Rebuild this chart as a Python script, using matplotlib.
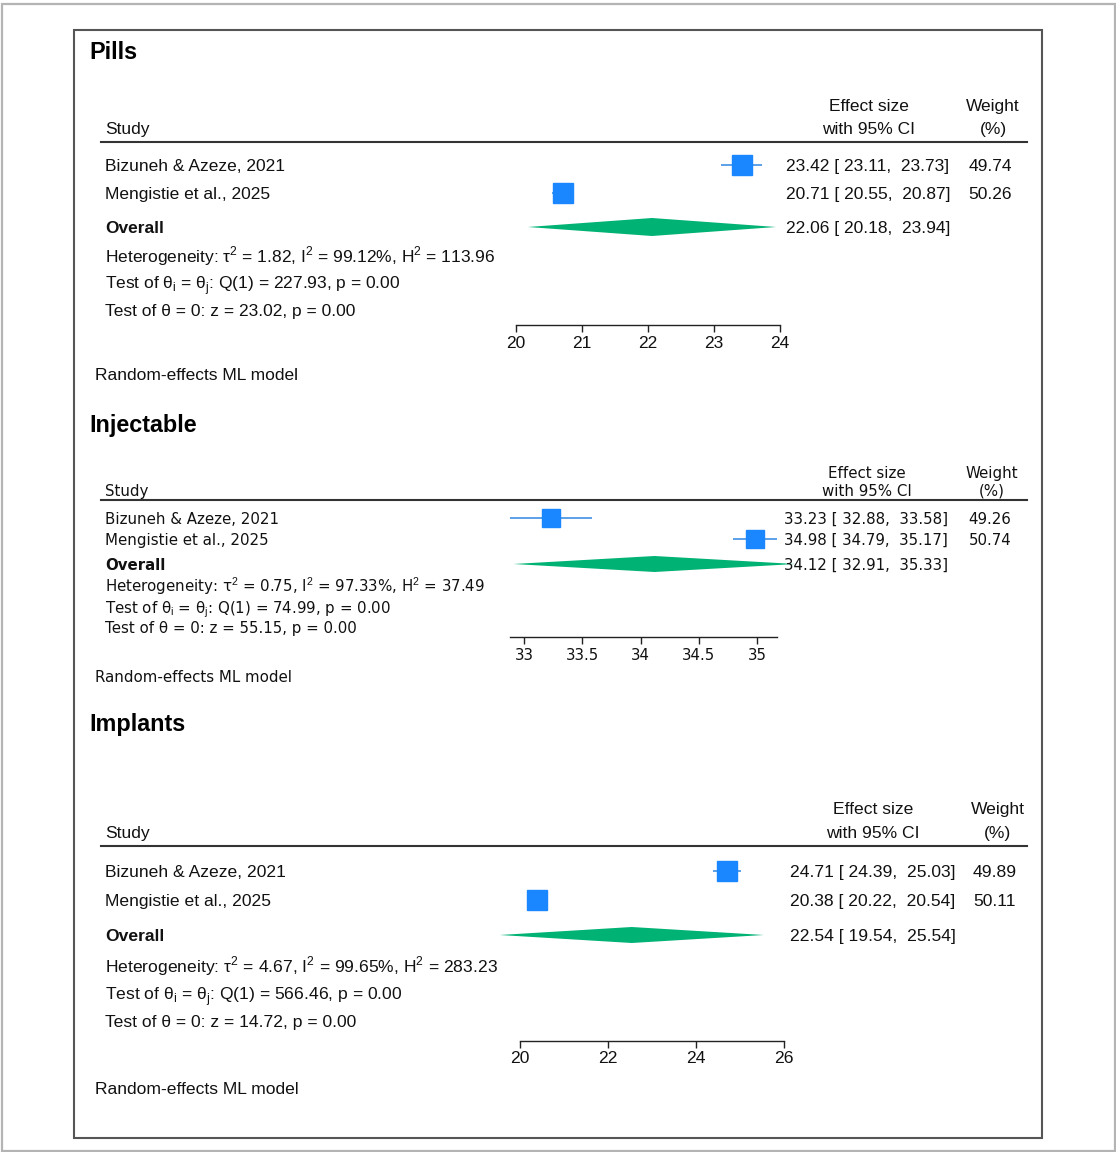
import matplotlib
matplotlib.use("Agg")
import matplotlib.pyplot as plt
from matplotlib.patches import Rectangle
from matplotlib.lines import Line2D

plt.rcParams['mathtext.fontset'] = 'custom'
plt.rcParams['mathtext.rm'] = 'Liberation Sans'

W, H = 1116, 1152
DPI = 100

# ---------------- data ----------------
studies = ["Bizuneh & Azeze, 2021", "Mengistie et al., 2025"]

pills_es = [23.42, 20.71]
pills_lo = [23.11, 20.55]
pills_hi = [23.73, 20.87]
pills_w = [49.74, 50.26]
pills_overall = [22.06, 20.18, 23.94]
pills_stats = ["1.82", "99.12%", "113.96", "227.93", "23.02"]
pills_ticks = [20, 21, 22, 23, 24]

inj_es = [33.23, 34.98]
inj_lo = [32.88, 34.79]
inj_hi = [33.58, 35.17]
inj_w = [49.26, 50.74]
inj_overall = [34.12, 32.91, 35.33]
inj_stats = ["0.75", "97.33%", "37.49", "74.99", "55.15"]
inj_ticks = [33, 33.5, 34, 34.5, 35]
inj_ticklabels = ["33", "33.5", "34", "34.5", "35"]

imp_es = [24.71, 20.38]
imp_lo = [24.39, 20.22]
imp_hi = [25.03, 20.54]
imp_w = [49.89, 50.11]
imp_overall = [22.54, 19.54, 25.54]
imp_stats = ["4.67", "99.65%", "283.23", "566.46", "14.72"]
imp_ticks = [20, 22, 24, 26]

SQ_COLOR = '#1a86ff'
CI_COLOR = '#4f98e6'
DIA_COLOR = '#00b274'
TXT = '#111111'

fig = plt.figure(figsize=(W / DPI, H / DPI), dpi=DPI)
fig.patch.set_facecolor('white')


def fx(x):
    return x / W


def fy(y):
    return 1 - y / H


# borders
fig.add_artist(Rectangle((fx(1.5), fy(1150.5)), fx(1113), (1147) / H, transform=fig.transFigure,
                         fill=False, edgecolor='#b4b4b4', linewidth=1.6))
fig.add_artist(Rectangle((fx(73.5), fy(1138)), fx(1042 - 73.5), (1138 - 29.5) / H, transform=fig.transFigure,
                         fill=False, edgecolor='#555555', linewidth=1.5))


def panel(title, es, lo, hi, wts, overall, stats, ticks, ticklabels, L):
    fam = L['family']
    fs = L['fs']
    hfs = L['hfs']
    # title
    fig.text(fx(89), fy(L['title_y']), title, fontsize=16.8, fontweight='bold',
             family=['Liberation Sans', 'DejaVu Sans'], color='black', va='center_baseline', ha='left')
    # header
    fig.text(fx(105), fy(L['h2']), "Study", fontsize=hfs, family=fam, color=TXT, va='center_baseline')
    fig.text(fx(L['es_hdr_x']), fy(L['h1']), "Effect size", fontsize=hfs, family=fam, color=TXT,
             va='center_baseline', ha='center')
    fig.text(fx(L['es_hdr_x']), fy(L['h2']), "with 95% CI", fontsize=hfs, family=fam, color=TXT,
             va='center_baseline', ha='center')
    fig.text(fx(L['w_hdr_x']), fy(L['h1']), "Weight", fontsize=hfs, family=fam, color=TXT,
             va='center_baseline', ha='center')
    fig.text(fx(L['w_hdr_x']), fy(L['h2']), "(%)", fontsize=hfs, family=fam, color=TXT,
             va='center_baseline', ha='center')
    fig.add_artist(Line2D([fx(101), fx(1027)], [fy(L['line_y']), fy(L['line_y'])],
                          transform=fig.transFigure, color='#333333', linewidth=1.5))

    # axes for the marks
    t0, t1 = ticks[0], ticks[-1]
    x0, x1 = L['tick_px']
    top, bot = L['line_y'], L['axis_y']
    ax = fig.add_axes([fx(x0), fy(bot), fx(x1 - x0), (bot - top) / H])
    ax.set_xlim(t0, t1)
    ax.set_ylim(bot, top)
    ax.patch.set_visible(False)
    for s in ['top', 'left', 'right']:
        ax.spines[s].set_visible(False)
    ax.spines['bottom'].set_color('#222222')
    ax.spines['bottom'].set_linewidth(1.0)
    ax.spines['bottom'].set_bounds(*L['axis_bounds'])
    ax.set_yticks([])
    ax.set_xticks(ticks)
    ax.set_xticklabels(ticklabels, fontsize=L['tfs'], family=fam, color=TXT)
    ax.tick_params(axis='x', direction='out', length=5, width=1.0, color='#222222', pad=L['pad'])

    rows = L['rows']
    for i in range(len(es)):
        ax.plot([lo[i], hi[i]], [rows[i], rows[i]], color=CI_COLOR, linewidth=1.3, clip_on=False,
                solid_capstyle='butt', zorder=2)
        ax.plot([es[i]], [rows[i]], marker='s', markersize=L['msk'] * wts[i] ** 0.5, color=SQ_COLOR,
                markeredgecolor=SQ_COLOR, linestyle='none', clip_on=False, zorder=3)
    oe, ol, oh = overall
    oy = rows[2]
    hh = L['dia_h']
    ax.fill([ol, oe, oh, oe], [oy, oy - hh, oy, oy + hh], color=DIA_COLOR, clip_on=False,
            linewidth=0, zorder=3)

    # left labels
    for i, name in enumerate(studies):
        fig.text(fx(105), fy(rows[i]), name, fontsize=fs, family=fam, color=TXT, va='center_baseline')
    fig.text(fx(105), fy(rows[2]), "Overall", fontsize=fs, family=fam, fontweight='bold', color=TXT,
             va='center_baseline')
    tau, i2, h2, q, z = stats
    fig.text(fx(105), fy(L['het'][0]),
             "Heterogeneity: τ$^\\mathrm{2}$ = %s, I$^\\mathrm{2}$ = %s, H$^\\mathrm{2}$ = %s" % (tau, i2, h2),
             fontsize=fs, family=fam, color=TXT, va='center_baseline')
    fig.text(fx(105), fy(L['het'][1]),
             "Test of θ$_\\mathrm{i}$ = θ$_\\mathrm{j}$: Q(1) = %s, p = 0.00" % q,
             fontsize=fs, family=fam, color=TXT, va='center_baseline')
    fig.text(fx(105), fy(L['het'][2]),
             "Test of θ = 0: z = %s, p = 0.00" % z,
             fontsize=fs, family=fam, color=TXT, va='center_baseline')

    # right columns
    for i in range(len(es)):
        fig.text(fx(L['es_x']), fy(rows[i]), "%.2f [ %.2f,  %.2f]" % (es[i], lo[i], hi[i]),
                 fontsize=fs, family=fam, color=TXT, va='center_baseline')
        fig.text(fx(L['w_x']), fy(rows[i]), "%.2f" % wts[i],
                 fontsize=fs, family=fam, color=TXT, va='center_baseline', ha='center')
    fig.text(fx(L['es_x']), fy(rows[2]), "%.2f [ %.2f,  %.2f]" % (oe, ol, oh),
             fontsize=fs, family=fam, color=TXT, va='center_baseline')

    fig.text(fx(95), fy(L['model_y']), "Random-effects ML model", fontsize=fs, family=fam, color=TXT,
             va='center_baseline')
    return ax


pills_L = dict(family=['Liberation Sans', 'DejaVu Sans'], fs=12.5, hfs=12.5, tfs=12.5,
               title_y=50, h1=105, h2=128, line_y=142, rows=[165, 193, 227], het=[253, 282, 310],
               axis_y=325, tick_px=(516, 780), axis_bounds=(20, 24), model_y=374, pad=3,
               es_x=786, es_hdr_x=869, w_x=990, w_hdr_x=993, msk=1.95, dia_h=9)
inj_L = dict(family=['DejaVu Sans'], fs=10.8, hfs=10.8, tfs=10.8,
             title_y=423, h1=472, h2=490, line_y=500, rows=[518, 539, 564], het=[584, 606, 627],
             axis_y=637, tick_px=(524, 757), axis_bounds=(32.88, 35.17), model_y=676, pad=3,
             es_x=784, es_hdr_x=867, w_x=990, w_hdr_x=992, msk=1.85, dia_h=8)
imp_L = dict(family=['Liberation Sans', 'DejaVu Sans'], fs=12.6, hfs=12.6, tfs=12.6,
             title_y=722, h1=808, h2=832, line_y=846, rows=[871, 900, 935], het=[963, 993, 1021],
             axis_y=1041, tick_px=(520, 784), axis_bounds=(20, 26), model_y=1088, pad=2,
             es_x=790, es_hdr_x=873, w_x=995, w_hdr_x=998, msk=2.0, dia_h=8)

panel("Pills", pills_es, pills_lo, pills_hi, pills_w, pills_overall, pills_stats,
      pills_ticks, [str(t) for t in pills_ticks], pills_L)
panel("Injectable", inj_es, inj_lo, inj_hi, inj_w, inj_overall, inj_stats,
      inj_ticks, inj_ticklabels, inj_L)
panel("Implants", imp_es, imp_lo, imp_hi, imp_w, imp_overall, imp_stats,
      imp_ticks, [str(t) for t in imp_ticks], imp_L)

fig.savefig("out.png", dpi=DPI, facecolor='white')
